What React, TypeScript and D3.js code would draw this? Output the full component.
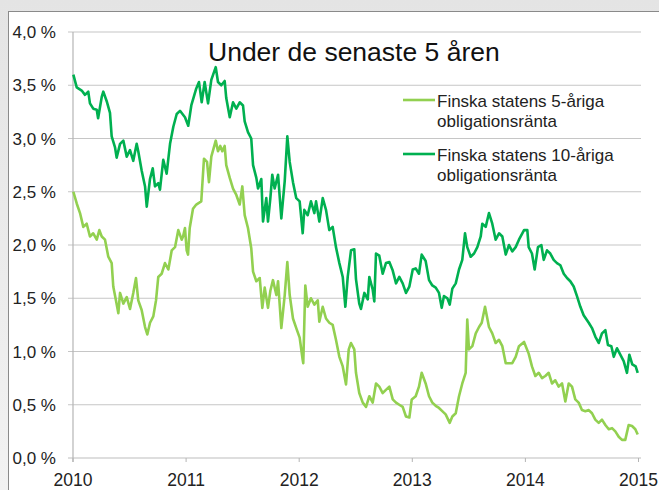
import React from 'react';
import * as d3 from 'd3';

// Finska statens obligationsräntor, % (decimal year, value)
const fiveYear: [number, number][] = [
    [2010.003, 2.50], [2010.033, 2.39], [2010.062, 2.30], [2010.091, 2.17], [2010.121, 2.20],
    [2010.150, 2.08], [2010.179, 2.11], [2010.210, 2.05], [2010.233, 2.14], [2010.254, 2.08],
    [2010.283, 2.05], [2010.312, 1.89], [2010.342, 1.83], [2010.356, 1.61], [2010.380, 1.48],
    [2010.401, 1.36], [2010.416, 1.55], [2010.445, 1.45], [2010.475, 1.51], [2010.504, 1.40],
    [2010.533, 1.55], [2010.557, 1.69], [2010.577, 1.48], [2010.607, 1.39], [2010.637, 1.23],
    [2010.657, 1.16], [2010.681, 1.27], [2010.710, 1.33], [2010.734, 1.48], [2010.754, 1.70],
    [2010.784, 1.73], [2010.813, 1.83], [2010.843, 1.77], [2010.873, 1.95], [2010.902, 1.98],
    [2010.931, 2.14], [2010.961, 2.05], [2010.973, 2.08], [2010.990, 2.16], [2011.005, 1.95],
    [2011.017, 1.91], [2011.032, 2.16], [2011.061, 2.34], [2011.090, 2.38], [2011.120, 2.40],
    [2011.134, 2.41], [2011.158, 2.81], [2011.185, 2.78], [2011.202, 2.59], [2011.223, 2.83],
    [2011.262, 2.98], [2011.282, 2.88], [2011.302, 2.93], [2011.320, 2.88], [2011.341, 2.93],
    [2011.355, 2.75], [2011.386, 2.63], [2011.415, 2.53], [2011.444, 2.47], [2011.474, 2.38],
    [2011.497, 2.55], [2011.518, 2.28], [2011.547, 2.16], [2011.576, 1.97], [2011.592, 1.75],
    [2011.621, 1.66], [2011.651, 1.69], [2011.674, 1.41], [2011.695, 1.60], [2011.724, 1.41],
    [2011.745, 1.57], [2011.768, 1.67], [2011.798, 1.53], [2011.813, 1.66], [2011.842, 1.22],
    [2011.872, 1.53], [2011.895, 1.84], [2011.916, 1.53], [2011.945, 1.31], [2011.974, 1.22],
    [2012.004, 1.13], [2012.031, 0.92], [2012.036, 0.89], [2012.054, 1.62], [2012.075, 1.42],
    [2012.104, 1.50], [2012.134, 1.44], [2012.164, 1.48], [2012.178, 1.28], [2012.208, 1.42],
    [2012.237, 1.31], [2012.266, 1.27], [2012.296, 1.25], [2012.325, 1.11], [2012.355, 0.95],
    [2012.385, 0.86], [2012.414, 0.69], [2012.438, 1.02], [2012.458, 1.08], [2012.487, 1.02],
    [2012.502, 0.80], [2012.531, 0.61], [2012.562, 0.52], [2012.591, 0.48], [2012.620, 0.58],
    [2012.650, 0.52], [2012.679, 0.70], [2012.708, 0.67], [2012.738, 0.61], [2012.767, 0.64],
    [2012.797, 0.67], [2012.827, 0.55], [2012.856, 0.52], [2012.885, 0.50], [2012.915, 0.48],
    [2012.944, 0.39], [2012.974, 0.38], [2012.995, 0.55], [2013.030, 0.58], [2013.059, 0.67],
    [2013.083, 0.80], [2013.118, 0.70], [2013.148, 0.58], [2013.177, 0.52], [2013.207, 0.49],
    [2013.236, 0.47], [2013.265, 0.44], [2013.295, 0.41], [2013.331, 0.33], [2013.354, 0.39],
    [2013.384, 0.42], [2013.413, 0.58], [2013.442, 0.70], [2013.472, 0.80], [2013.486, 1.30],
    [2013.501, 1.02], [2013.531, 1.05], [2013.561, 1.17], [2013.590, 1.23], [2013.614, 1.27],
    [2013.643, 1.42], [2013.678, 1.23], [2013.707, 1.17], [2013.737, 1.08], [2013.767, 1.11],
    [2013.796, 1.05], [2013.826, 0.89], [2013.855, 0.89], [2013.884, 0.89], [2013.914, 0.95],
    [2013.943, 1.05], [2013.988, 1.09], [2014.029, 0.98], [2014.058, 0.86], [2014.088, 0.77],
    [2014.118, 0.80], [2014.147, 0.75], [2014.176, 0.77], [2014.206, 0.80], [2014.235, 0.70],
    [2014.264, 0.73], [2014.294, 0.67], [2014.324, 0.70], [2014.353, 0.53], [2014.383, 0.70],
    [2014.412, 0.67], [2014.441, 0.55], [2014.471, 0.52], [2014.500, 0.45], [2014.530, 0.44],
    [2014.560, 0.45], [2014.589, 0.42], [2014.618, 0.36], [2014.648, 0.33], [2014.677, 0.36],
    [2014.707, 0.31], [2014.737, 0.27], [2014.766, 0.28], [2014.795, 0.25], [2014.825, 0.20],
    [2014.854, 0.17], [2014.883, 0.17], [2014.913, 0.31], [2014.943, 0.30], [2014.972, 0.27],
    [2014.993, 0.22],
];

const tenYear: [number, number][] = [
    [2010.003, 3.60], [2010.033, 3.48], [2010.077, 3.45], [2010.106, 3.41], [2010.135, 3.44],
    [2010.150, 3.33], [2010.179, 3.28], [2010.210, 3.27], [2010.222, 3.19], [2010.254, 3.39],
    [2010.268, 3.44], [2010.298, 3.35], [2010.327, 3.24], [2010.342, 3.02], [2010.371, 2.92],
    [2010.386, 2.82], [2010.416, 2.95], [2010.445, 2.98], [2010.475, 2.83], [2010.504, 2.89],
    [2010.533, 2.79], [2010.563, 2.95], [2010.577, 2.88], [2010.607, 2.70], [2010.637, 2.55],
    [2010.652, 2.36], [2010.681, 2.62], [2010.705, 2.72], [2010.725, 2.55], [2010.754, 2.58],
    [2010.769, 2.52], [2010.798, 2.80], [2010.828, 2.67], [2010.858, 2.95], [2010.887, 3.11],
    [2010.917, 3.23], [2010.946, 3.26], [2010.990, 3.20], [2011.019, 3.12], [2011.046, 3.31],
    [2011.090, 3.47], [2011.114, 3.53], [2011.138, 3.34], [2011.164, 3.53], [2011.194, 3.33],
    [2011.223, 3.55], [2011.262, 3.67], [2011.282, 3.53], [2011.311, 3.50], [2011.341, 3.54],
    [2011.355, 3.38], [2011.386, 3.20], [2011.415, 3.34], [2011.444, 3.28], [2011.474, 3.34],
    [2011.503, 3.31], [2011.518, 3.16], [2011.547, 3.06], [2011.576, 3.00], [2011.592, 2.75],
    [2011.621, 2.63], [2011.636, 2.53], [2011.665, 2.62], [2011.680, 2.22], [2011.709, 2.44],
    [2011.724, 2.22], [2011.745, 2.44], [2011.762, 2.66], [2011.783, 2.53], [2011.813, 2.66],
    [2011.842, 2.25], [2011.872, 2.60], [2011.895, 3.02], [2011.916, 2.78], [2011.945, 2.59],
    [2011.974, 2.44], [2012.004, 2.41], [2012.031, 2.11], [2012.045, 2.33], [2012.075, 2.28],
    [2012.104, 2.41], [2012.134, 2.30], [2012.149, 2.41], [2012.178, 2.22], [2012.208, 2.44],
    [2012.237, 2.33], [2012.266, 2.14], [2012.296, 2.17], [2012.325, 1.98], [2012.355, 1.83],
    [2012.385, 1.70], [2012.408, 1.42], [2012.429, 1.70], [2012.458, 1.95], [2012.487, 1.96],
    [2012.502, 1.68], [2012.531, 1.45], [2012.546, 1.40], [2012.576, 1.55], [2012.606, 1.49],
    [2012.620, 1.70], [2012.650, 1.58], [2012.664, 1.47], [2012.679, 1.92], [2012.708, 1.90],
    [2012.738, 1.73], [2012.767, 1.83], [2012.797, 1.84], [2012.827, 1.76], [2012.856, 1.64],
    [2012.885, 1.70], [2012.915, 1.64], [2012.944, 1.55], [2012.974, 1.61], [2013.004, 1.77],
    [2013.030, 1.78], [2013.059, 1.73], [2013.083, 1.91], [2013.118, 1.85], [2013.148, 1.67],
    [2013.177, 1.62], [2013.207, 1.60], [2013.236, 1.55], [2013.260, 1.41], [2013.280, 1.52],
    [2013.310, 1.50], [2013.331, 1.44], [2013.354, 1.59], [2013.384, 1.64], [2013.413, 1.77],
    [2013.442, 1.86], [2013.466, 2.11], [2013.486, 1.98], [2013.516, 1.89], [2013.546, 1.92],
    [2013.575, 1.98], [2013.605, 2.08], [2013.619, 2.20], [2013.649, 2.17], [2013.678, 2.30],
    [2013.707, 2.20], [2013.737, 2.05], [2013.767, 2.11], [2013.796, 2.08], [2013.826, 1.91],
    [2013.855, 2.00], [2013.884, 1.94], [2013.914, 1.98], [2013.943, 2.05], [2013.988, 2.14],
    [2014.017, 2.14], [2014.029, 1.98], [2014.058, 1.92], [2014.082, 1.77], [2014.111, 1.98],
    [2014.141, 2.00], [2014.162, 1.86], [2014.191, 1.95], [2014.220, 1.92], [2014.250, 1.86],
    [2014.279, 1.83], [2014.309, 1.81], [2014.339, 1.73], [2014.368, 1.69], [2014.397, 1.66],
    [2014.427, 1.61], [2014.456, 1.52], [2014.486, 1.42], [2014.515, 1.34], [2014.560, 1.27],
    [2014.589, 1.22], [2014.618, 1.14], [2014.648, 1.08], [2014.677, 1.17], [2014.707, 1.20],
    [2014.730, 1.06], [2014.760, 1.05], [2014.781, 0.95], [2014.810, 1.03], [2014.839, 0.97],
    [2014.869, 0.91], [2014.898, 0.80], [2014.919, 0.97], [2014.945, 0.88], [2014.975, 0.86],
    [2014.993, 0.80],
];

const yearTicks = [2010, 2011, 2012, 2013, 2014, 2015];
const rateTicks = [0, 0.5, 1, 1.5, 2, 2.5, 3, 3.5, 4];
const title = 'Under de senaste 5 åren';
const legendItems = [
    { lines: ['Finska statens 5-åriga', 'obligationsränta'], color: '#92d050' },
    { lines: ['Finska statens 10-åriga', 'obligationsränta'], color: '#00b050' },
];

const W = 659;
const H = 490;
const margin = { top: 32, right: 18, bottom: 32, left: 73 };

export default function App() {
    const x = d3.scaleLinear()
        .domain([2010, 2015])
        .range([margin.left, W - margin.right - 2.5]);
    const y = d3.scaleLinear()
        .domain([0, 4])
        .range([H - margin.bottom, margin.top]);

    const line = d3.line<[number, number]>()
        .x(d => x(d[0]))
        .y(d => y(d[1]));

    const fmt = (v: number) => v.toFixed(1).replace('.', ',') + ' %';
    const font = 'Arial, "Liberation Sans", sans-serif';

    return (
        <div style={{ position: 'fixed', left: 0, top: 0 }}>
            <svg width={W} height={H} style={{ display: 'block' }} fontFamily={font}>
                <defs>
                    <linearGradient id="bg" x1="0" y1="0" x2="0" y2="1">
                        <stop offset="0" stopColor="#e4e4e4" />
                        <stop offset="1" stopColor="#f2f2f2" />
                    </linearGradient>
                </defs>
                <rect width={W} height={H} fill="url(#bg)" />
                <rect x={8.5} y={11.5} width={W} height={H} fill="#fff" stroke="#8a8a8a" />

                {/* grid */}
                {rateTicks.map(t => (
                    <g key={t}>
                        <line x1={x(2010) - 5} x2={W - 18} y1={y(t)} y2={y(t)}
                            stroke={t === 0 ? '#bdbdbd' : '#c6c6c6'} strokeWidth={1.2} />
                        <text x={56} y={y(t) + 6} textAnchor="end" fontSize={17} fill="#222">{fmt(t)}</text>
                    </g>
                ))}
                <line x1={x(2010)} x2={x(2010)} y1={y(4)} y2={y(0) + 4} stroke="#b5b5b5" strokeWidth={1.2} />

                {yearTicks.map(t => (
                    <g key={t}>
                        <line x1={x(t)} x2={x(t)} y1={y(0)} y2={y(0) + 4} stroke="#b5b5b5" />
                        <text x={x(t)} y={486} textAnchor="middle" fontSize={17.5} fill="#222">{t}</text>
                    </g>
                ))}

                {/* series */}
                <path d={line(tenYear) ?? ''} fill="none" stroke="#00b050" strokeWidth={2.6} strokeLinejoin="round" />
                <path d={line(fiveYear) ?? ''} fill="none" stroke="#92d050" strokeWidth={2.6} strokeLinejoin="round" />

                <text x={208} y={60.5} fontSize={26.5} fill="#111">{title}</text>

                {/* legend */}
                {legendItems.map((it, i) => (
                    <g key={i} transform={`translate(403,${100 + i * 54})`}>
                        <line x1={0} x2={32} y1={0} y2={0} stroke={it.color} strokeWidth={2.6} />
                        <text x={34} y={6.5} fontSize={17} fill="#222">
                            {it.lines.map((l, j) => (
                                <tspan key={j} x={34} dy={j === 0 ? 0 : 20.5}>{l}</tspan>
                            ))}
                        </text>
                    </g>
                ))}
            </svg>
        </div>
    );
}
